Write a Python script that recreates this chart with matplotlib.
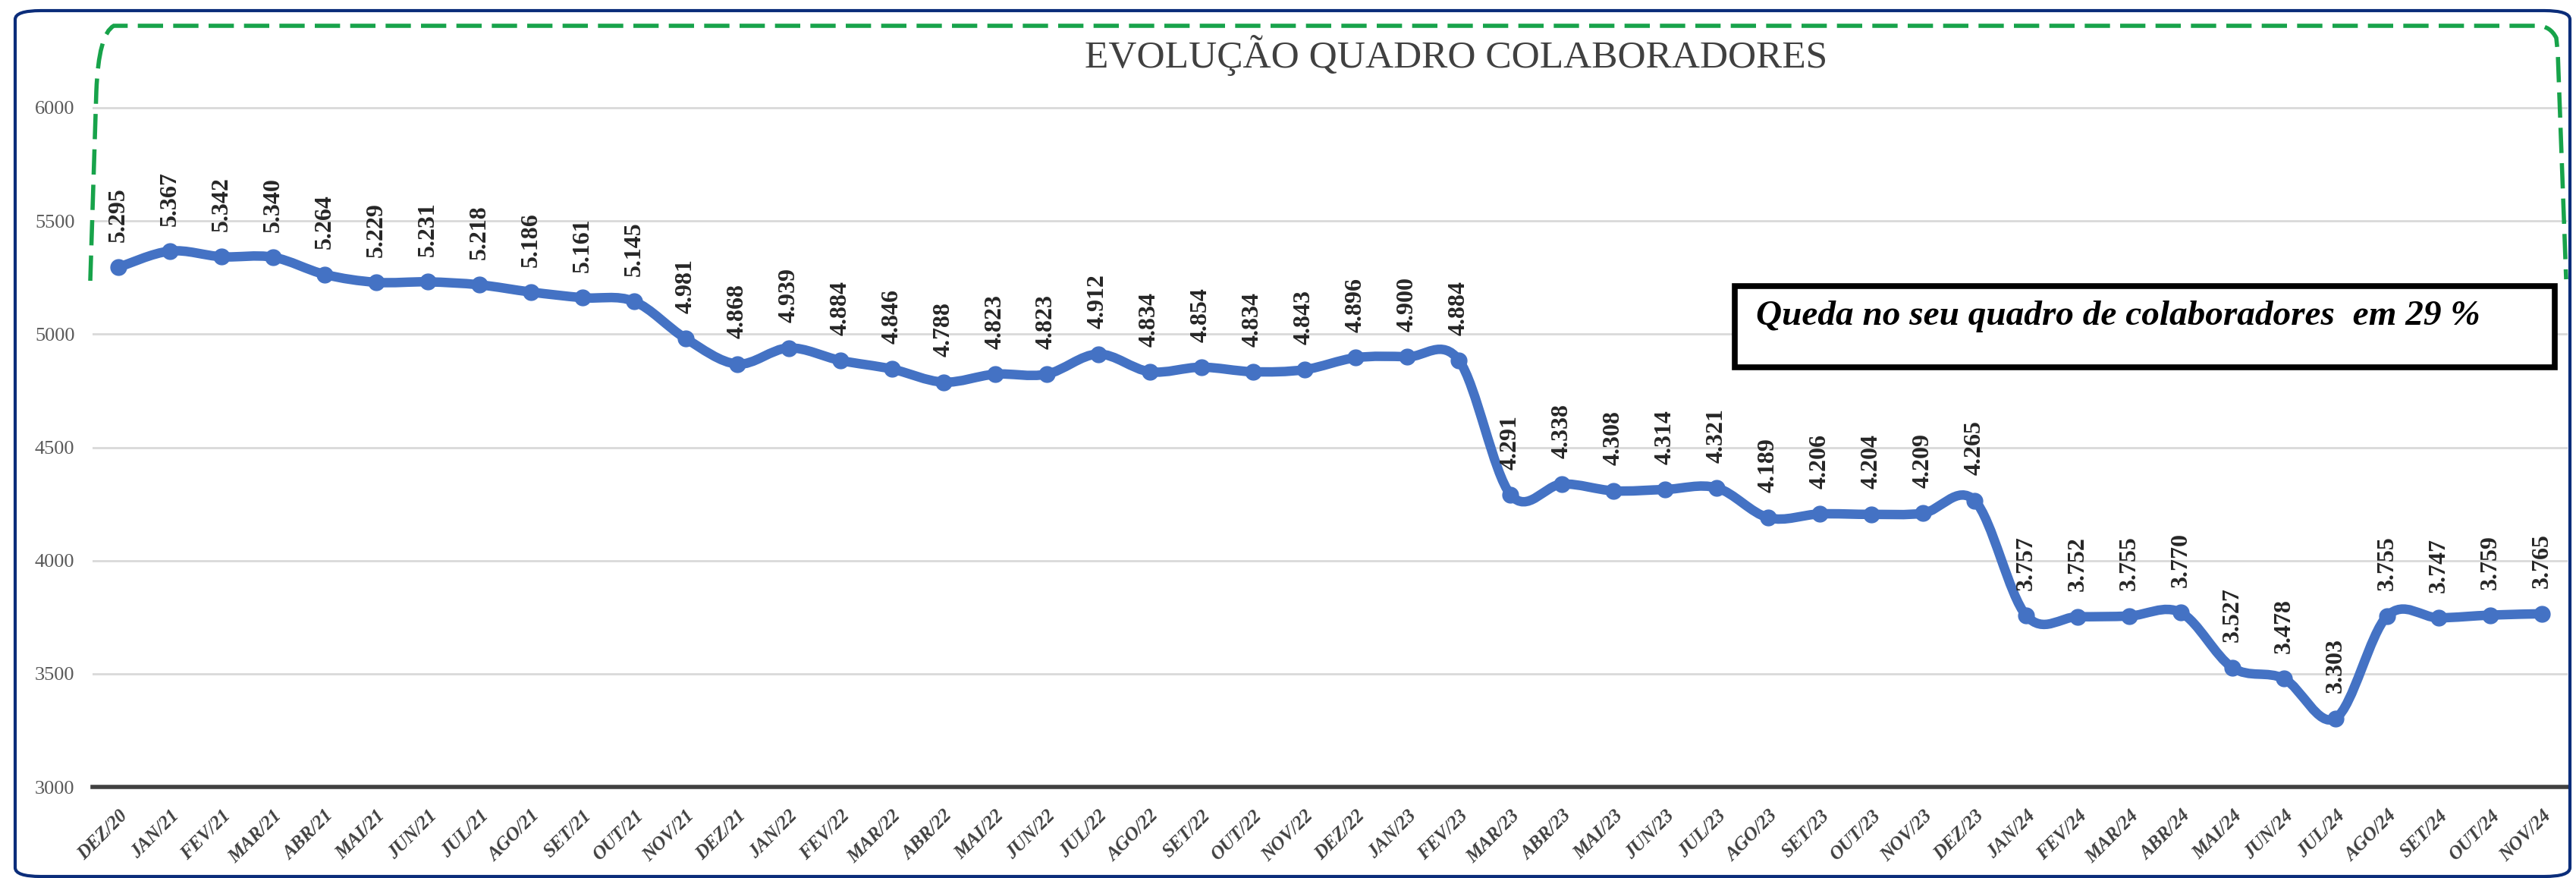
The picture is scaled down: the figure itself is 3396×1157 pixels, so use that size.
import numpy as np
import matplotlib.pyplot as plt
from matplotlib.path import Path
from matplotlib.patches import PathPatch, FancyBboxPatch, Rectangle

# === Data ===
meses = ["DEZ/20", "JAN/21", "FEV/21", "MAR/21", "ABR/21", "MAI/21", "JUN/21", "JUL/21",
         "AGO/21", "SET/21", "OUT/21", "NOV/21", "DEZ/21", "JAN/22", "FEV/22", "MAR/22",
         "ABR/22", "MAI/22", "JUN/22", "JUL/22", "AGO/22", "SET/22", "OUT/22", "NOV/22",
         "DEZ/22", "JAN/23", "FEV/23", "MAR/23", "ABR/23", "MAI/23", "JUN/23", "JUL/23",
         "AGO/23", "SET/23", "OUT/23", "NOV/23", "DEZ/23", "JAN/24", "FEV/24", "MAR/24",
         "ABR/24", "MAI/24", "JUN/24", "JUL/24", "AGO/24", "SET/24", "OUT/24", "NOV/24"]
colaboradores = [5295, 5367, 5342, 5340, 5264, 5229, 5231, 5218, 5186, 5161, 5145, 4981,
                 4868, 4939, 4884, 4846, 4788, 4823, 4823, 4912, 4834, 4854, 4834, 4843,
                 4896, 4900, 4884, 4291, 4338, 4308, 4314, 4321, 4189, 4206, 4204, 4209,
                 4265, 3757, 3752, 3755, 3770, 3527, 3478, 3303, 3755, 3747, 3759, 3765]
y_ticks = [3000, 3500, 4000, 4500, 5000, 5500, 6000]

titulo = "EVOLUÇÃO QUADRO COLABORADORES"
nota = "Queda no seu quadro de colaboradores  em 29 %"

AZUL = "#4472C4"
W, H = 3396, 1157

fig = plt.figure(figsize=(W / 100, H / 100), dpi=100)
ax = fig.add_axes([122 / W, 1 - 1037 / H, (3385 - 122) / W, (1037 - 52.5) / H])

x = np.arange(len(colaboradores))
y = np.array(colaboradores, dtype=float)

# smoothed line (Excel-style bezier through the points)
verts = [(x[0], y[0])]
codes = [Path.MOVETO]
n = len(x)
for i in range(n - 1):
    p0 = np.array([x[max(i - 1, 0)], y[max(i - 1, 0)]])
    p1 = np.array([x[i], y[i]])
    p2 = np.array([x[i + 1], y[i + 1]])
    p3 = np.array([x[min(i + 2, n - 1)], y[min(i + 2, n - 1)]])
    c1 = p1 + (p2 - p0) / 6
    c2 = p2 - (p3 - p1) / 6
    verts += [tuple(c1), tuple(c2), tuple(p2)]
    codes += [Path.CURVE4] * 3
ax.add_patch(PathPatch(Path(verts, codes), facecolor="none", edgecolor=AZUL,
                       lw=9, capstyle="round", joinstyle="round", zorder=3))
ax.plot(x, y, "o", color=AZUL, ms=15, zorder=4)

for i, v in enumerate(colaboradores):
    ax.annotate(f"{v:,}".replace(",", "."), (i, v), xytext=(0, 24),
                textcoords="offset points", rotation=90, ha="center", va="bottom",
                family="Liberation Serif", fontsize=23, fontweight="bold",
                color="#262626", zorder=5)

ax.set_xlim(-0.5, 47.5)
ax.set_ylim(3000, 6300)
ax.set_yticks(y_ticks)
ax.set_yticklabels([str(t) for t in y_ticks], family="Liberation Serif",
                   fontsize=19, color="#595959")
ax.set_xticks(x)
ax.set_xticklabels(meses, rotation=45, ha="right", rotation_mode="anchor",
                   family="Liberation Serif", fontstyle="italic", fontweight="bold",
                   fontsize=18, color="#404040")
ax.tick_params(axis="both", length=0)
ax.tick_params(axis="x", pad=19)
ax.tick_params(axis="y", pad=17)
ax.grid(axis="y", color="#D9D9D9", lw=2)
ax.set_axisbelow(True)
for s in ["top", "right", "left"]:
    ax.spines[s].set_visible(False)
ax.spines["bottom"].set_color("#404040")
ax.spines["bottom"].set_linewidth(4)

# title
fig.text(1920 / W, 1 - 89 / H, titulo, ha="center", va="baseline",
         family="Liberation Serif", fontsize=37, color="#404040")

# note box
fig.patches.append(Rectangle((2287 / W, 1 - 484 / H), (3368 - 2287) / W, (484 - 377) / H,
                             transform=fig.transFigure, facecolor="white",
                             edgecolor="black", lw=5.5, zorder=10))
fig.text(2315 / W, 1 - 428 / H, nota, ha="left", va="baseline",
         family="Liberation Serif", fontstyle="italic", fontweight="bold",
         fontsize=34, color="black", zorder=11)

# green dashed frame
def fpt(px, py):
    return (px / W, 1 - py / H)

gv = [fpt(119, 370), fpt(127, 120), fpt(130, 45), fpt(150, 34), fpt(160, 34),
      fpt(3345, 34), fpt(3362, 34), fpt(3370, 50), fpt(3372, 70), fpt(3383, 368)]
gc = [Path.MOVETO, Path.LINETO, Path.CURVE3, Path.CURVE3, Path.LINETO,
      Path.LINETO, Path.CURVE3, Path.CURVE3, Path.LINETO, Path.LINETO]
fig.patches.append(PathPatch(Path(gv, gc), transform=fig.transFigure, facecolor="none",
                             edgecolor="#17A34A", lw=4, linestyle=(0, (6, 2.4))))

# outer border
fig.patches.append(FancyBboxPatch((20 / W, 2 / H), (3388 - 20) / W, (1143 - 2) / H,
                                  boxstyle="round,pad=0,rounding_size=0.01",
                                  transform=fig.transFigure, facecolor="none",
                                  edgecolor="#0B2D7A", lw=3, clip_on=False))

plt.savefig("out.png", dpi=100)
plt.close()
